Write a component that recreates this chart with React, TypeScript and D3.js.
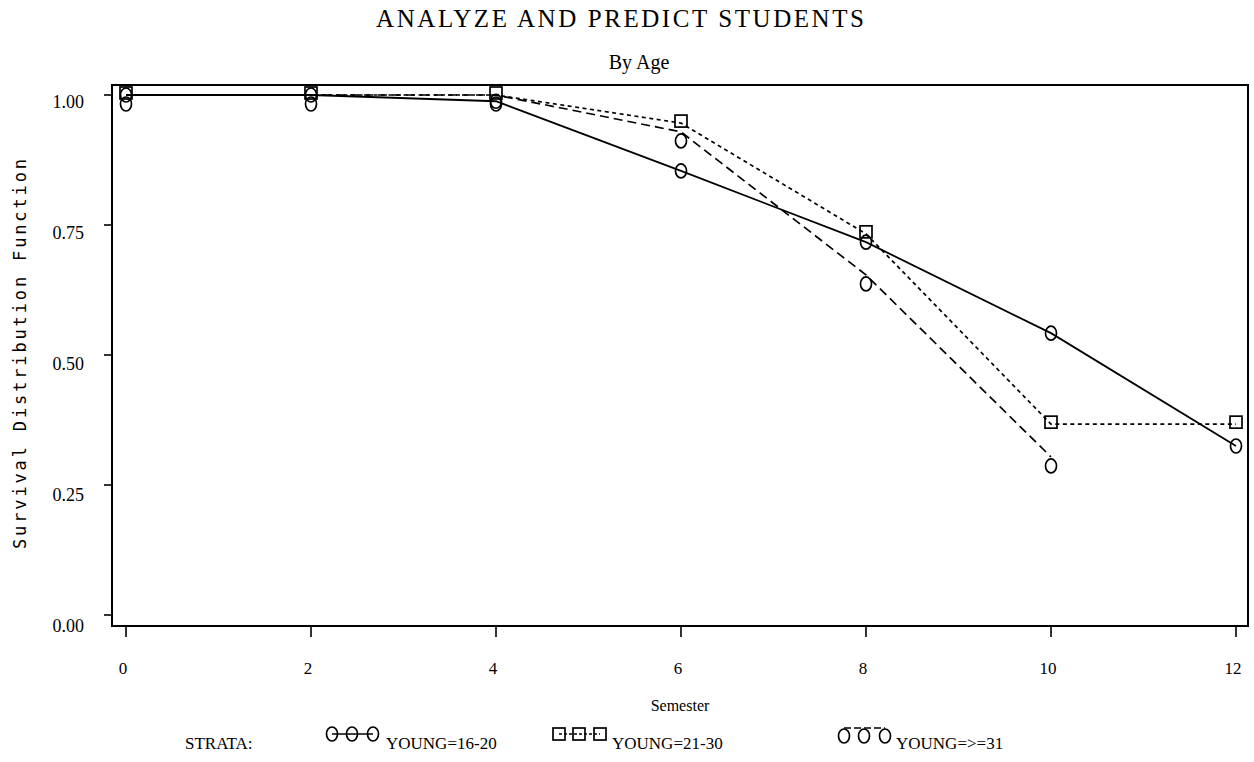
import React from "react";
import * as d3 from "d3";

const semesters = [0, 2, 4, 6, 8, 10, 12];
const young1620 = [1.0, 1.0, 0.988, 0.854, 0.717, 0.542, 0.325];
const young2130 = [1.0, 1.0, 1.0, 0.946, 0.733, 0.367, 0.367];
const young31 = [1.0, 1.0, 1.0, 0.929, 0.654, 0.304];
const yTicks = [0, 0.25, 0.5, 0.75, 1.0];
const xTicks = [0, 2, 4, 6, 8, 10, 12];
const strataLabels = ["YOUNG=16-20", "YOUNG=21-30", "YOUNG=>=31"];

const W = 1254;
const H = 762;
const frame = { left: 112, right: 1248, top: 85, bottom: 626 };

export default function App() {
  const x = d3.scaleLinear().domain([0, 12]).range([126, 1236]);
  const y = d3.scaleLinear().domain([0, 1]).range([615, 95]);
  const line = d3
    .line<[number, number]>()
    .x((d) => x(d[0]))
    .y((d) => y(d[1]));

  const s1 = semesters.map((s, i) => [s, young1620[i]] as [number, number]);
  const s2 = semesters.map((s, i) => [s, young2130[i]] as [number, number]);
  const s3 = young31.map((v, i) => [semesters[i], v] as [number, number]);

  const circ = (cx: number, cy: number, key: string) => (
    <ellipse key={key} cx={cx} cy={cy} rx={5.5} ry={7} fill="none" stroke="#000" strokeWidth={1.7} />
  );
  const sq = (cx: number, cy: number, key: string) => (
    <rect key={key} x={cx - 6} y={cy - 6} width={12} height={12} fill="none" stroke="#000" strokeWidth={1.7} />
  );

  const serif = "'Liberation Serif', 'Times New Roman', serif";
  const legY = 737;

  return (
    <svg width={W} height={H} style={{ position: "absolute", left: 0, top: 0, background: "#fff" }}>
      <rect x={0} y={0} width={W} height={H} fill="#fff" />
      <text x={620} y={27} textAnchor="middle" fontFamily={serif} fontSize={25} textLength={488} lengthAdjust="spacing">
        ANALYZE AND PREDICT STUDENTS
      </text>
      <text x={639} y={69} textAnchor="middle" fontFamily={serif} fontSize={20}>
        By Age
      </text>

      {/* frame */}
      <rect
        x={frame.left}
        y={frame.top}
        width={frame.right - frame.left}
        height={frame.bottom - frame.top}
        fill="none"
        stroke="#000"
        strokeWidth={2}
      />

      {/* y axis */}
      {yTicks.map((t) => (
        <g key={"y" + t}>
          <line x1={104} x2={frame.left} y1={y(t)} y2={y(t)} stroke="#000" strokeWidth={1.6} />
          <text x={84} y={y(t) + 13 + (1 - t) * 4} textAnchor="end" fontFamily={serif} fontSize={18}>
            {d3.format(".2f")(t)}
          </text>
        </g>
      ))}
      <text
        transform={`translate(26,354) rotate(-90)`}
        textAnchor="middle"
        fontFamily="'DejaVu Sans Mono', monospace"
        fontSize={17}
        textLength={390}
        lengthAdjust="spacing"
      >
        Survival Distribution Function
      </text>

      {/* x axis */}
      {xTicks.map((t) => (
        <g key={"x" + t}>
          <line x1={x(t)} x2={x(t)} y1={frame.bottom} y2={frame.bottom + 11} stroke="#000" strokeWidth={1.6} />
          <text x={x(t) - 3} y={674} textAnchor="middle" fontFamily={serif} fontSize={17}>
            {t}
          </text>
        </g>
      ))}
      <text x={680} y={711} textAnchor="middle" fontFamily={serif} fontSize={16}>
        Semester
      </text>

      {/* series */}
      <path d={line(s3) || ""} fill="none" stroke="#000" strokeWidth={1.7} strokeDasharray="9,5" />
      <path d={line(s2) || ""} fill="none" stroke="#000" strokeWidth={1.7} strokeDasharray="4,3.5" />
      <path d={line(s1) || ""} fill="none" stroke="#000" strokeWidth={1.8} />
      {s3.map((d, i) => circ(x(d[0]), y(d[1]) + 9, "c3" + i))}
      {s2.map((d, i) => sq(x(d[0]), y(d[1]) - 2, "s2" + i))}
      {s1.map((d, i) => circ(x(d[0]), y(d[1]), "c1" + i))}

      {/* legend */}
      <text x={185} y={legY + 12} fontFamily={serif} fontSize={17}>
        STRATA:
      </text>
      <g>
        <line x1={332} x2={373} y1={legY - 3} y2={legY - 3} stroke="#000" strokeWidth={1.6} />
        {[332, 352, 373].map((cx, i) => circ(cx, legY - 3, "l1" + i))}
        <text x={386} y={legY + 12} fontFamily={serif} fontSize={17}>
          {strataLabels[0]}
        </text>
      </g>
      <g>
        <line x1={559} x2={600} y1={legY - 3} y2={legY - 3} stroke="#000" strokeWidth={1.5} strokeDasharray="3,2" />
        {[559, 579, 600].map((cx, i) => sq(cx, legY - 3, "l2" + i))}
        <text x={612} y={legY + 12} fontFamily={serif} fontSize={17}>
          {strataLabels[1]}
        </text>
      </g>
      <g>
        <line x1={844} x2={885} y1={legY - 9} y2={legY - 9} stroke="#000" strokeWidth={1.5} strokeDasharray="7,3" />
        {[844, 864, 885].map((cx, i) => circ(cx, legY - 1, "l3" + i))}
        <text x={896} y={legY + 12} fontFamily={serif} fontSize={17}>
          {strataLabels[2]}
        </text>
      </g>
    </svg>
  );
}
